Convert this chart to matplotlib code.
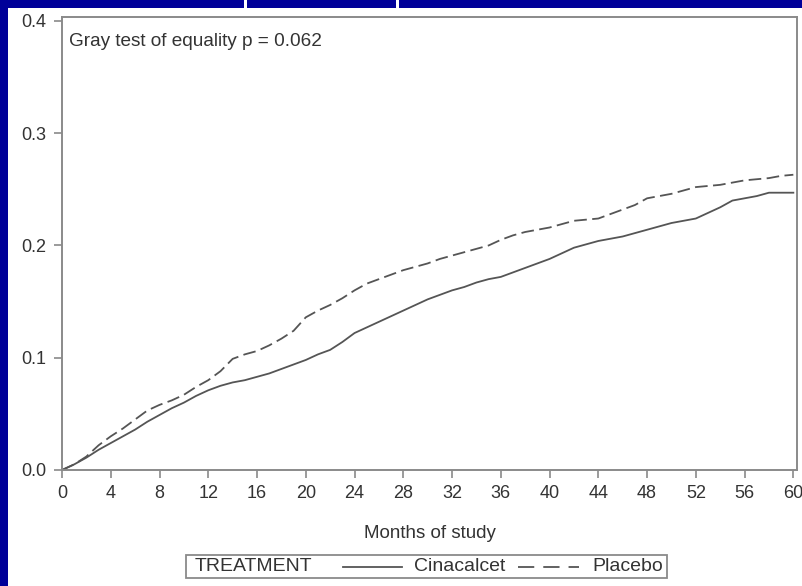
import matplotlib
matplotlib.use("Agg")
import matplotlib.pyplot as plt
from matplotlib.patches import Rectangle
from matplotlib.lines import Line2D

plt.rcParams['font.family'] = ['Liberation Sans', 'DejaVu Sans']

months = list(range(0, 61))
placebo = [0.000, 0.005, 0.012, 0.022, 0.030, 0.037, 0.045, 0.053, 0.058, 0.062,
           0.067, 0.074, 0.080, 0.088, 0.099, 0.103, 0.106, 0.111, 0.117, 0.124,
           0.136, 0.142, 0.147, 0.153, 0.160, 0.166, 0.170, 0.174, 0.178, 0.181,
           0.184, 0.188, 0.191, 0.194, 0.197, 0.200, 0.205, 0.209, 0.212, 0.214,
           0.216, 0.219, 0.222, 0.223, 0.224, 0.228, 0.232, 0.236, 0.242, 0.244,
           0.246, 0.249, 0.252, 0.253, 0.254, 0.256, 0.258, 0.259, 0.260, 0.262,
           0.263]
cinacalcet = [0.000, 0.005, 0.011, 0.018, 0.024, 0.030, 0.036, 0.043, 0.049, 0.055,
              0.060, 0.066, 0.071, 0.075, 0.078, 0.080, 0.083, 0.086, 0.090, 0.094,
              0.098, 0.103, 0.107, 0.114, 0.122, 0.127, 0.132, 0.137, 0.142, 0.147,
              0.152, 0.156, 0.160, 0.163, 0.167, 0.170, 0.172, 0.176, 0.180, 0.184,
              0.188, 0.193, 0.198, 0.201, 0.204, 0.206, 0.208, 0.211, 0.214, 0.217,
              0.220, 0.222, 0.224, 0.229, 0.234, 0.240, 0.242, 0.244, 0.247, 0.247,
              0.247]
x_ticks = list(range(0, 61, 4))
y_ticks = [0.0, 0.1, 0.2, 0.3, 0.4]
y_tick_labels = ['0.0', '0.1', '0.2', '0.3', '0.4']

W, H = 802, 586
BLUE = '#000099'
LINE = '#555555'
FRAME = '#8a8a8a'
TXT = '#333333'
FS = 13

fig = plt.figure(figsize=(W / 100, H / 100), dpi=100)
fig.patch.set_facecolor(BLUE)

def fx(px):
    return px / W

def fy(py):
    return 1 - py / H

# white panel
fig.patches.append(Rectangle((fx(8), 0), 1 - fx(8), fy(8), transform=fig.transFigure,
                             facecolor='white', edgecolor='none', zorder=0))
for gx in (244, 396):
    fig.patches.append(Rectangle((fx(gx), fy(8)), fx(3), 1 - fy(8), transform=fig.transFigure,
                                 facecolor='white', edgecolor='none', zorder=0))

ax = fig.add_axes([fx(62), fy(470), fx(797) - fx(62), fy(17) - fy(470)])
ax.set_zorder(1)
ax.set_facecolor('white')
ax.plot(months, cinacalcet, color=LINE, lw=1.3)
ax.plot(months, placebo, color=LINE, lw=1.3, dashes=(7, 3))

ax.set_xlim(0, 60.3)
ax.set_ylim(0, 0.4035)
ax.set_xticks(x_ticks)
ax.set_yticks(y_ticks)
ax.set_yticklabels(y_tick_labels)
for s in ax.spines.values():
    s.set_color(FRAME)
    s.set_linewidth(1.4)
ax.tick_params(axis='both', colors=FRAME, length=6, width=1.2, labelsize=FS,
               labelcolor=TXT, pad=5)
ax.set_xlabel('Months of study', fontsize=FS + 0.5, color=TXT, labelpad=16)
ax.text(0.009, 0.965, 'Gray test of equality p = 0.062', transform=ax.transAxes,
        fontsize=FS + 0.7, color=TXT, va='top', ha='left')

# legend box
fig.patches.append(Rectangle((fx(186), fy(578)), fx(667) - fx(186), fy(555) - fy(578),
                             transform=fig.transFigure, facecolor='white',
                             edgecolor=FRAME, lw=1.3, zorder=2))
ly = fy(566.5)
fig.text(fx(195), ly, 'TREATMENT', fontsize=FS + 1, color=TXT, va='center', ha='left', zorder=3)
fig.lines.append(Line2D([fx(343), fx(402)], [ly, ly], transform=fig.transFigure,
                        color=LINE, lw=1.3, zorder=3))
fig.text(fx(414), ly, 'Cinacalcet', fontsize=FS + 1, color=TXT, va='center', ha='left', zorder=3)
fig.lines.append(Line2D([fx(518), fx(579)], [ly, ly], transform=fig.transFigure,
                        color=LINE, lw=1.3, dashes=(9, 5), zorder=3))
fig.text(fx(592), ly, 'Placebo', fontsize=FS + 1, color=TXT, va='center', ha='left', zorder=3)

fig.savefig('out.png', dpi=100, facecolor=fig.get_facecolor())
